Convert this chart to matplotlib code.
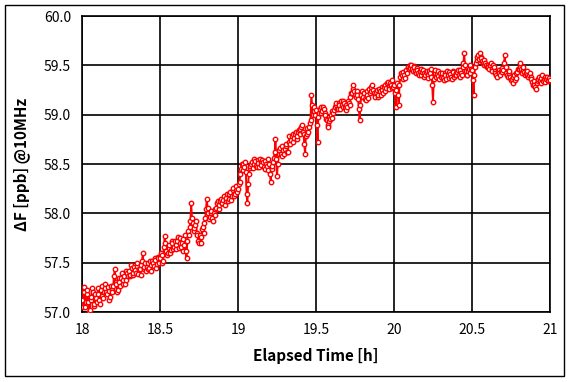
import numpy as np
import matplotlib
matplotlib.use("Agg")
import matplotlib.pyplot as plt
from matplotlib.patches import Rectangle

plt.rcParams['font.family'] = ['Noto Sans CJK KR', 'DejaVu Sans']

# Elapsed time [h]: samples every 0.005 h starting at 18 h
t_start = 18.0
t_step = 0.005

# dF [ppb] @10MHz at 18.00, 18.01, ... 21.00 h
df_on_grid = [
    57.12, 57.25, 57.05, 57.18, 57.10, 57.02, 57.15, 57.20, 57.08, 57.14,
    57.18, 57.12, 57.22, 57.16, 57.20, 57.24, 57.18, 57.21, 57.15, 57.22,
    57.26, 57.44, 57.28, 57.22, 57.30, 57.34, 57.28, 57.36, 57.32, 57.40,
    57.42, 57.38, 57.45, 57.40, 57.43, 57.47, 57.39, 57.44, 57.48, 57.60,
    57.46, 57.42, 57.50, 57.45, 57.48, 57.52, 57.47, 57.53, 57.49, 57.55,
    57.55, 57.58, 57.52, 57.77, 57.62, 57.60, 57.68, 57.63, 57.70, 57.66,
    57.68, 57.72, 57.65, 57.75, 57.70, 57.62, 57.78, 57.55, 57.82, 57.86,
    58.10, 57.90, 57.85, 57.92, 57.78, 57.70, 57.76, 57.84, 57.80, 57.95,
    58.15, 58.00, 57.96, 58.02, 57.92, 57.98, 58.05, 58.12, 58.08, 58.15,
    58.10, 58.18, 58.12, 58.20, 58.15, 58.22, 58.18, 58.26, 58.20, 58.28,
    58.25, 58.32, 58.45, 58.50, 58.47, 58.42, 58.10, 58.40, 58.48, 58.52,
    58.50, 58.53, 58.47, 58.51, 58.55, 58.49, 58.52, 58.45, 58.50, 58.55,
    58.50, 58.32, 58.48, 58.56, 58.75, 58.38, 58.60, 58.66, 58.58, 58.64,
    58.65, 58.70, 58.62, 58.78, 58.74, 58.80, 58.76, 58.82, 58.78, 58.84,
    58.85, 58.90, 58.80, 58.60, 58.86, 58.82, 58.92, 59.20, 59.00, 59.08,
    59.05, 58.72, 59.02, 59.08, 59.04, 59.06, 59.00, 58.95, 58.88, 58.96,
    58.97, 59.02, 59.08, 59.12, 59.06, 59.10, 59.14, 59.08, 59.12, 59.05,
    59.08, 59.12, 59.18, 59.22, 59.30, 59.20, 59.24, 59.16, 58.95, 59.20,
    59.18, 59.22, 59.15, 59.20, 59.26, 59.24, 59.30, 59.22, 59.18, 59.25,
    59.20, 59.24, 59.28, 59.22, 59.30, 59.27, 59.33, 59.26, 59.30, 59.35,
    59.30, 59.08, 59.32, 59.10, 59.38, 59.40, 59.43, 59.37, 59.45, 59.48,
    59.47, 59.50, 59.44, 59.48, 59.42, 59.45, 59.40, 59.46, 59.43, 59.38,
    59.40, 59.44, 59.37, 59.42, 59.46, 59.13, 59.42, 59.38, 59.44, 59.36,
    59.38, 59.42, 59.35, 59.40, 59.44, 59.37, 59.41, 59.36, 59.43, 59.40,
    59.40, 59.45, 59.38, 59.42, 59.48, 59.62, 59.44, 59.40, 59.46, 59.50,
    59.45, 59.20, 59.48, 59.55, 59.60, 59.63, 59.57, 59.52, 59.55, 59.50,
    59.50, 59.46, 59.52, 59.44, 59.48, 59.42, 59.38, 59.45, 59.40, 59.47,
    59.45, 59.60, 59.42, 59.38, 59.44, 59.35, 59.32, 59.40, 59.37, 59.43,
    59.46, 59.52, 59.42, 59.48, 59.40, 59.44, 59.38, 59.42, 59.36, 59.30,
    59.30, 59.26, 59.34, 59.38, 59.32, 59.40, 59.36, 59.33, 59.38, 59.35,
    59.35,
]

# dF read at the in-between samples 18.005, 18.015, ... 20.995 h
df_between = [
    57.05, 57.20, 57.10, 57.22, 57.00, 57.12, 57.24, 57.06, 57.18, 57.10,
    57.24, 57.08, 57.26, 57.14, 57.28, 57.20, 57.25, 57.12, 57.26, 57.20,
    57.36, 57.30, 57.20, 57.34, 57.26, 57.40, 57.32, 57.28, 57.42, 57.36,
    57.36, 57.48, 57.38, 57.46, 57.40, 57.50, 57.44, 57.38, 57.52, 57.44,
    57.50, 57.46, 57.44, 57.52, 57.42, 57.50, 57.55, 57.45, 57.56, 57.50,
    57.60, 57.50, 57.66, 57.70, 57.58, 57.65, 57.60, 57.72, 57.64, 57.72,
    57.64, 57.76, 57.70, 57.66, 57.74, 57.68, 57.62, 57.72, 57.78, 57.92,
    57.95, 57.82, 57.88, 57.80, 57.72, 57.78, 57.70, 57.86, 57.90, 58.04,
    58.05, 57.94, 58.00, 57.95, 58.00, 58.04, 58.10, 58.04, 58.12, 58.10,
    58.14, 58.08, 58.16, 58.12, 58.20, 58.14, 58.24, 58.18, 58.24, 58.22,
    58.30, 58.40, 58.50, 58.44, 58.52, 58.20, 58.30, 58.46, 58.50, 58.46,
    58.55, 58.48, 58.54, 58.47, 58.52, 58.54, 58.47, 58.53, 58.48, 58.44,
    58.40, 58.45, 58.52, 58.62, 58.55, 58.50, 58.64, 58.60, 58.68, 58.60,
    58.68, 58.62, 58.72, 58.70, 58.78, 58.72, 58.80, 58.75, 58.82, 58.80,
    58.88, 58.82, 58.70, 58.78, 58.80, 58.88, 58.95, 59.10, 59.04, 59.00,
    58.90, 58.98, 59.06, 59.02, 59.08, 59.02, 58.96, 58.90, 58.94, 59.00,
    59.04, 59.05, 59.10, 59.06, 59.12, 59.06, 59.10, 59.14, 59.08, 59.10,
    59.14, 59.10, 59.22, 59.26, 59.24, 59.18, 59.20, 59.06, 59.10, 59.24,
    59.22, 59.16, 59.24, 59.17, 59.22, 59.28, 59.25, 59.20, 59.23, 59.18,
    59.26, 59.20, 59.25, 59.28, 59.24, 59.32, 59.28, 59.32, 59.27, 59.28,
    59.22, 59.25, 59.20, 59.30, 59.42, 59.36, 59.40, 59.44, 59.42, 59.46,
    59.50, 59.46, 59.49, 59.44, 59.47, 59.42, 59.44, 59.40, 59.45, 59.42,
    59.43, 59.40, 59.44, 59.38, 59.30, 59.36, 59.45, 59.41, 59.39, 59.42,
    59.40, 59.37, 59.42, 59.36, 59.40, 59.43, 59.38, 59.44, 59.38, 59.42,
    59.43, 59.40, 59.45, 59.40, 59.52, 59.50, 59.40, 59.44, 59.42, 59.46,
    59.35, 59.40, 59.52, 59.58, 59.56, 59.58, 59.54, 59.50, 59.52, 59.48,
    59.48, 59.50, 59.46, 59.50, 59.44, 59.40, 59.44, 59.42, 59.44, 59.43,
    59.52, 59.48, 59.40, 59.42, 59.38, 59.36, 59.38, 59.35, 59.42, 59.46,
    59.48, 59.46, 59.45, 59.43, 59.42, 59.40, 59.40, 59.38, 59.33, 59.34,
    59.28, 59.32, 59.36, 59.34, 59.37, 59.34, 59.38, 59.36, 59.34, 59.37,
]

x_ticks = [18, 18.5, 19, 19.5, 20, 20.5, 21]
x_tick_labels = ["18", "18.5", "19", "19.5", "20", "20.5", "21"]
y_ticks = [57.0, 57.5, 58.0, 58.5, 59.0, 59.5, 60.0]
y_tick_labels = ["57.0", "57.5", "58.0", "58.5", "59.0", "59.5", "60.0"]

# interleave the two read-off series in time order
df_all = []
for i, v in enumerate(df_on_grid):
    df_all.append(v)
    if i < len(df_between):
        df_all.append(df_between[i])
times = t_start + t_step * np.arange(len(df_all))

fig = plt.figure(figsize=(5.72, 3.82), dpi=100)
fig.patches.append(Rectangle((5 / 572, 6 / 382), 559 / 572, 371 / 382,
                             transform=fig.transFigure, fill=False,
                             edgecolor='black', linewidth=1.0))
ax = fig.add_axes([82 / 572, 70 / 382, 468 / 572, 296 / 382])

ax.plot(times, df_all, color='red', linewidth=1.4, marker='o',
        markersize=3.2, markerfacecolor='white', markeredgecolor='red',
        markeredgewidth=1.0, zorder=3)

ax.set_xlim(18, 21)
ax.set_ylim(57, 60)
ax.set_xticks(x_ticks)
ax.set_xticklabels(x_tick_labels)
ax.set_yticks(y_ticks)
ax.set_yticklabels(y_tick_labels)
ax.tick_params(length=0, labelsize=10, pad=8)
ax.grid(True, color='black', linewidth=1.2)
ax.set_axisbelow(True)
for s in ax.spines.values():
    s.set_linewidth(1.2)
    s.set_color('black')

ax.set_xlabel("Elapsed Time [h]", fontsize=11, fontweight='bold', labelpad=8)
ax.set_ylabel("ΔF [ppb] @10MHz", fontsize=11, fontweight='bold', labelpad=10)

fig.savefig("out.png", dpi=100)
